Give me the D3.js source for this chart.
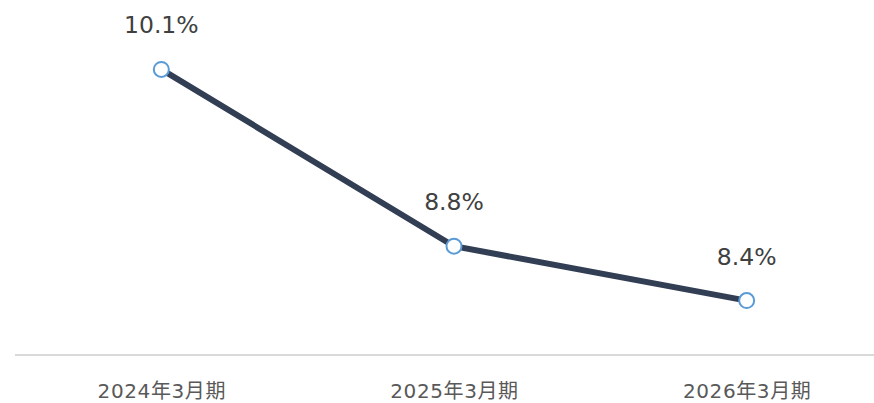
<!DOCTYPE html>
<meta charset="utf-8">
<style>

body {
    margin: 0;
}

.chart {
    font-family: "DejaVu Sans", Verdana, "Noto Sans CJK JP", sans-serif;
    background: #fff;
}

.axis--x path,
.axis--x line {
    display: none;
}

.axis--x text {
    fill: #595959;
    font-size: 20px;
    letter-spacing: 0.6px;
    font-family: "DejaVu Sans", Verdana, "Noto Sans CJK JP", sans-serif;
}

</style>
<svg class="chart" width="874" height="403"></svg>
<script src="https://d3js.org/d3.v7.min.js"></script>
<script>

var periods = ["2024年3月期", "2025年3月期", "2026年3月期"];
var ratios = [10.1, 8.8, 8.4];

var svg = d3.select("svg"),
    margin = {top: 15, right: -19, bottom: 48, left: 15},
    width = +svg.attr("width") - margin.left - margin.right,
    height = +svg.attr("height") - margin.top - margin.bottom;

var x = d3.scalePoint().domain(periods).range([0, width]).padding(0.5),
    y = d3.scaleLinear().domain([8, 10.5]).range([height, 0]);

var g = svg.append("g")
    .attr("transform", "translate(" + margin.left + "," + margin.top + ")");

var data = periods.map(function(p, i) { return {period: p, value: ratios[i]}; });

// baseline
g.append("line")
    .attr("x1", 0)
    .attr("x2", width)
    .attr("y1", y(8))
    .attr("y2", y(8))
    .style("stroke", "#d9d9d9")
    .style("stroke-width", 2);

g.append("g")
    .attr("class", "axis axis--x")
    .attr("transform", "translate(0," + height + ")")
    .call(d3.axisBottom(x).tickSize(0).tickPadding(29));

var line = d3.line()
    .x(function(d) { return x(d.period); })
    .y(function(d) { return y(d.value); });

g.append("path")
    .datum(data)
    .attr("d", line)
    .style("fill", "none")
    .style("stroke", "#323e53")
    .style("stroke-width", 6);

g.selectAll(".dot")
    .data(data)
    .enter().append("circle")
    .attr("class", "dot")
    .attr("cx", function(d) { return x(d.period); })
    .attr("cy", function(d) { return y(d.value); })
    .attr("r", 7.5)
    .style("fill", "#fff")
    .style("stroke", "#5b9bd5")
    .style("stroke-width", 2);

g.selectAll(".label")
    .data(data)
    .enter().append("text")
    .attr("class", "label")
    .attr("x", function(d) { return x(d.period); })
    .attr("y", function(d) { return y(d.value) - 36; })
    .style("text-anchor", "middle")
    .style("font-size", "23.5px")
    .style("fill", "#404040")
    .text(function(d) { return d.value.toFixed(1) + "%"; });

</script>
